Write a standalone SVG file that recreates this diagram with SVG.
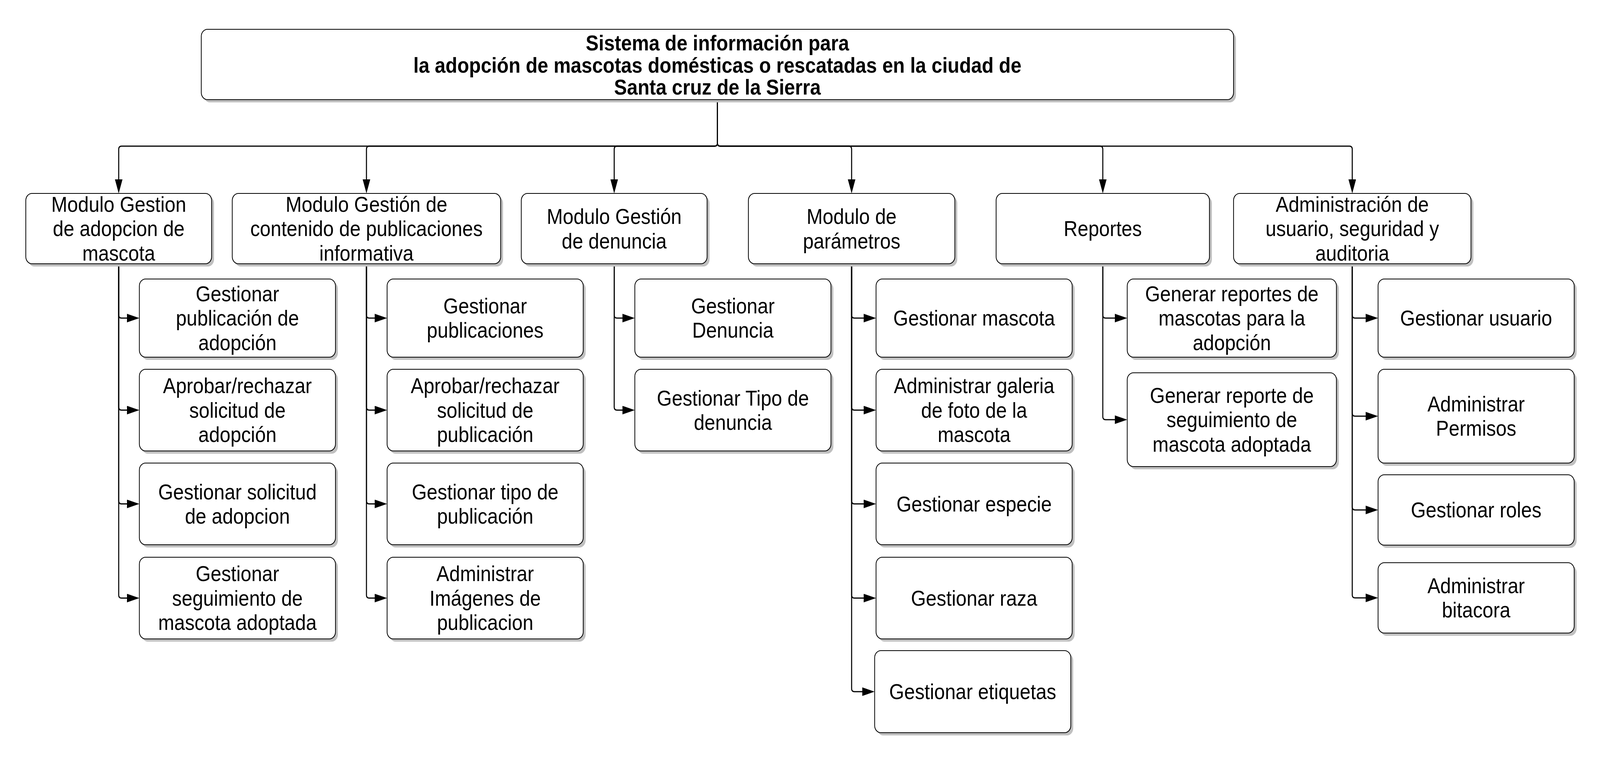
<svg xmlns="http://www.w3.org/2000/svg" width="4650" height="1950" viewBox="0 0 4650 1950" preserveAspectRatio="none">
<style>
svg{width:100vw;height:100vh}
.bg{fill:#ffffff}
.sh{fill:#c0c0c0}
.box{fill:#ffffff;stroke:#000000;stroke-width:2.2}
.t{font-family:"Liberation Sans",Arial,sans-serif;font-size:56px;fill:#000000;text-anchor:middle}
.tb{font-family:"Liberation Sans",Arial,sans-serif;font-size:56px;font-weight:bold;fill:#000000;text-anchor:middle}
.c{fill:none;stroke:#000000;stroke-width:3}
</style>
<defs>
<marker id="ah" markerUnits="userSpaceOnUse" viewBox="0 0 36 22" markerWidth="36" markerHeight="22" refX="16" refY="11" orient="auto">
<path d="M0,0 L36,11 L0,22 Z" fill="#000000"/>
</marker>
</defs>
<rect class="bg" x="0" y="0" width="4650" height="1950"/>

<g id="connectors">
<path class="c" marker-end="url(#ah)" d="M2085,256 V366 Q2085,374 2077,374 H353 Q345,374 345,382 V475"/>
<path class="c" marker-end="url(#ah)" d="M2085,256 V366 Q2085,374 2077,374 H1073 Q1065,374 1065,382 V475"/>
<path class="c" marker-end="url(#ah)" d="M2085,256 V366 Q2085,374 2077,374 H1793 Q1785,374 1785,382 V475"/>
<path class="c" marker-end="url(#ah)" d="M2085,256 V366 Q2085,374 2093,374 H2467 Q2475,374 2475,382 V475"/>
<path class="c" marker-end="url(#ah)" d="M2085,256 V366 Q2085,374 2093,374 H3197 Q3205,374 3205,382 V475"/>
<path class="c" marker-end="url(#ah)" d="M2085,256 V366 Q2085,374 2093,374 H3922 Q3930,374 3930,382 V475"/>

<path class="c" marker-end="url(#ah)" d="M345,676 V806 Q345,814 353,814 H385"/>
<path class="c" marker-end="url(#ah)" d="M345,676 V1041.5 Q345,1049.5 353,1049.5 H385"/>
<path class="c" marker-end="url(#ah)" d="M345,676 V1281.5 Q345,1289.5 353,1289.5 H385"/>
<path class="c" marker-end="url(#ah)" d="M345,676 V1522.5 Q345,1530.5 353,1530.5 H385"/>

<path class="c" marker-end="url(#ah)" d="M1065,676 V806 Q1065,814 1073,814 H1105"/>
<path class="c" marker-end="url(#ah)" d="M1065,676 V1041.5 Q1065,1049.5 1073,1049.5 H1105"/>
<path class="c" marker-end="url(#ah)" d="M1065,676 V1281.5 Q1065,1289.5 1073,1289.5 H1105"/>
<path class="c" marker-end="url(#ah)" d="M1065,676 V1522.5 Q1065,1530.5 1073,1530.5 H1105"/>

<path class="c" marker-end="url(#ah)" d="M1785,676 V806 Q1785,814 1793,814 H1825"/>
<path class="c" marker-end="url(#ah)" d="M1785,676 V1041.5 Q1785,1049.5 1793,1049.5 H1825"/>

<path class="c" marker-end="url(#ah)" d="M2475,676 V806 Q2475,814 2483,814 H2526"/>
<path class="c" marker-end="url(#ah)" d="M2475,676 V1041.5 Q2475,1049.5 2483,1049.5 H2526"/>
<path class="c" marker-end="url(#ah)" d="M2475,676 V1281.5 Q2475,1289.5 2483,1289.5 H2526"/>
<path class="c" marker-end="url(#ah)" d="M2475,676 V1522.5 Q2475,1530.5 2483,1530.5 H2526"/>
<path class="c" marker-end="url(#ah)" d="M2475,676 V1762 Q2475,1770 2483,1770 H2522"/>

<path class="c" marker-end="url(#ah)" d="M3205,676 V806 Q3205,814 3213,814 H3256"/>
<path class="c" marker-end="url(#ah)" d="M3205,676 V1066 Q3205,1074 3213,1074 H3256"/>

<path class="c" marker-end="url(#ah)" d="M3930,676 V806 Q3930,814 3938,814 H3985"/>
<path class="c" marker-end="url(#ah)" d="M3930,676 V1057 Q3930,1065 3938,1065 H3985"/>
<path class="c" marker-end="url(#ah)" d="M3930,676 V1297 Q3930,1305 3938,1305 H3985"/>
<path class="c" marker-end="url(#ah)" d="M3930,676 V1522 Q3930,1530 3938,1530 H3985"/>
</g>

<g id="root">
<rect class="sh" x="592" y="82" width="3000" height="180" rx="18"/>
<rect class="box" x="585" y="75" width="3000" height="180" rx="18"/>
<text class="tb"><tspan x="2085" y="129">Sistema de información para</tspan><tspan x="2085" y="186">la adopción de mascotas domésticas o rescatadas en la ciudad de</tspan><tspan x="2085" y="242">Santa cruz de la Sierra</tspan></text>
</g>

<g id="m1">
<rect class="sh" x="82" y="502" width="540" height="180" rx="18"/>
<rect class="box" x="75" y="495" width="540" height="180" rx="18"/>
<text class="t"><tspan x="345" y="542">Modulo Gestion</tspan><tspan x="345" y="604.5">de adopcion de</tspan><tspan x="345" y="667">mascota</tspan></text>
</g>
<g id="m2">
<rect class="sh" x="682" y="502" width="780" height="180" rx="18"/>
<rect class="box" x="675" y="495" width="780" height="180" rx="18"/>
<text class="t"><tspan x="1065" y="542">Modulo Gestión de</tspan><tspan x="1065" y="604.5">contenido de publicaciones</tspan><tspan x="1065" y="667">informativa</tspan></text>
</g>
<g id="m3">
<rect class="sh" x="1522" y="502" width="540" height="180" rx="18"/>
<rect class="box" x="1515" y="495" width="540" height="180" rx="18"/>
<text class="t"><tspan x="1785" y="573.5">Modulo Gestión</tspan><tspan x="1785" y="636">de denuncia</tspan></text>
</g>
<g id="m4">
<rect class="sh" x="2182" y="502" width="600" height="180" rx="18"/>
<rect class="box" x="2175" y="495" width="600" height="180" rx="18"/>
<text class="t"><tspan x="2475" y="573.5">Modulo de</tspan><tspan x="2475" y="636">parámetros</tspan></text>
</g>
<g id="m5">
<rect class="sh" x="2902" y="502" width="620" height="180" rx="18"/>
<rect class="box" x="2895" y="495" width="620" height="180" rx="18"/>
<text class="t"><tspan x="3205" y="604.5">Reportes</tspan></text>
</g>
<g id="m6">
<rect class="sh" x="3592" y="502" width="690" height="180" rx="18"/>
<rect class="box" x="3585" y="495" width="690" height="180" rx="18"/>
<text class="t"><tspan x="3930" y="542">Administración de</tspan><tspan x="3930" y="604.5">usuario, seguridad y</tspan><tspan x="3930" y="667">auditoria</tspan></text>
</g>

<g id="c1r1">
<rect class="sh" x="412" y="721" width="570" height="200" rx="18"/>
<rect class="box" x="405" y="714" width="570" height="200" rx="18"/>
<text class="t"><tspan x="690" y="771">Gestionar</tspan><tspan x="690" y="833.5">publicación de</tspan><tspan x="690" y="896">adopción</tspan></text>
</g>
<g id="c1r2">
<rect class="sh" x="412" y="952" width="570" height="209" rx="18"/>
<rect class="box" x="405" y="945" width="570" height="209" rx="18"/>
<text class="t"><tspan x="690" y="1006.5">Aprobar/rechazar</tspan><tspan x="690" y="1069">solicitud de</tspan><tspan x="690" y="1131.5">adopción</tspan></text>
</g>
<g id="c1r3">
<rect class="sh" x="412" y="1192" width="570" height="209" rx="18"/>
<rect class="box" x="405" y="1185" width="570" height="209" rx="18"/>
<text class="t"><tspan x="690" y="1278">Gestionar solicitud</tspan><tspan x="690" y="1340.5">de adopcion</tspan></text>
</g>
<g id="c1r4">
<rect class="sh" x="412" y="1433" width="570" height="209" rx="18"/>
<rect class="box" x="405" y="1426" width="570" height="209" rx="18"/>
<text class="t"><tspan x="690" y="1487.5">Gestionar</tspan><tspan x="690" y="1550">seguimiento de</tspan><tspan x="690" y="1612.5">mascota adoptada</tspan></text>
</g>

<g id="c2r1">
<rect class="sh" x="1132" y="721" width="570" height="200" rx="18"/>
<rect class="box" x="1125" y="714" width="570" height="200" rx="18"/>
<text class="t"><tspan x="1410" y="802">Gestionar</tspan><tspan x="1410" y="864.5">publicaciones</tspan></text>
</g>
<g id="c2r2">
<rect class="sh" x="1132" y="952" width="570" height="209" rx="18"/>
<rect class="box" x="1125" y="945" width="570" height="209" rx="18"/>
<text class="t"><tspan x="1410" y="1006.5">Aprobar/rechazar</tspan><tspan x="1410" y="1069">solicitud de</tspan><tspan x="1410" y="1131.5">publicación</tspan></text>
</g>
<g id="c2r3">
<rect class="sh" x="1132" y="1192" width="570" height="209" rx="18"/>
<rect class="box" x="1125" y="1185" width="570" height="209" rx="18"/>
<text class="t"><tspan x="1410" y="1278">Gestionar tipo de</tspan><tspan x="1410" y="1340.5">publicación</tspan></text>
</g>
<g id="c2r4">
<rect class="sh" x="1132" y="1433" width="570" height="209" rx="18"/>
<rect class="box" x="1125" y="1426" width="570" height="209" rx="18"/>
<text class="t"><tspan x="1410" y="1487.5">Administrar</tspan><tspan x="1410" y="1550">Imágenes de</tspan><tspan x="1410" y="1612.5">publicacion</tspan></text>
</g>

<g id="c3r1">
<rect class="sh" x="1852" y="721" width="570" height="200" rx="18"/>
<rect class="box" x="1845" y="714" width="570" height="200" rx="18"/>
<text class="t"><tspan x="2130" y="802">Gestionar</tspan><tspan x="2130" y="864.5">Denuncia</tspan></text>
</g>
<g id="c3r2">
<rect class="sh" x="1852" y="952" width="570" height="209" rx="18"/>
<rect class="box" x="1845" y="945" width="570" height="209" rx="18"/>
<text class="t"><tspan x="2130" y="1038">Gestionar Tipo de</tspan><tspan x="2130" y="1100.5">denuncia</tspan></text>
</g>

<g id="c4r1">
<rect class="sh" x="2553" y="721" width="570" height="200" rx="18"/>
<rect class="box" x="2546" y="714" width="570" height="200" rx="18"/>
<text class="t"><tspan x="2831" y="833.5">Gestionar mascota</tspan></text>
</g>
<g id="c4r2">
<rect class="sh" x="2553" y="952" width="570" height="209" rx="18"/>
<rect class="box" x="2546" y="945" width="570" height="209" rx="18"/>
<text class="t"><tspan x="2831" y="1006.5">Administrar galeria</tspan><tspan x="2831" y="1069">de foto de la</tspan><tspan x="2831" y="1131.5">mascota</tspan></text>
</g>
<g id="c4r3">
<rect class="sh" x="2553" y="1192" width="570" height="209" rx="18"/>
<rect class="box" x="2546" y="1185" width="570" height="209" rx="18"/>
<text class="t"><tspan x="2831" y="1309">Gestionar especie</tspan></text>
</g>
<g id="c4r4">
<rect class="sh" x="2553" y="1433" width="570" height="209" rx="18"/>
<rect class="box" x="2546" y="1426" width="570" height="209" rx="18"/>
<text class="t"><tspan x="2831" y="1550">Gestionar raza</tspan></text>
</g>
<g id="c4r5">
<rect class="sh" x="2549" y="1672" width="570" height="210" rx="18"/>
<rect class="box" x="2542" y="1665" width="570" height="210" rx="18"/>
<text class="t"><tspan x="2827" y="1789.5">Gestionar etiquetas</tspan></text>
</g>

<g id="c5r1">
<rect class="sh" x="3283" y="721" width="608" height="200" rx="18"/>
<rect class="box" x="3276" y="714" width="608" height="200" rx="18"/>
<text class="t"><tspan x="3580" y="771">Generar reportes de</tspan><tspan x="3580" y="833.5">mascotas para la</tspan><tspan x="3580" y="896">adopción</tspan></text>
</g>
<g id="c5r2">
<rect class="sh" x="3283" y="961" width="608" height="240" rx="18"/>
<rect class="box" x="3276" y="954" width="608" height="240" rx="18"/>
<text class="t"><tspan x="3580" y="1031">Generar reporte de</tspan><tspan x="3580" y="1093.5">seguimiento de</tspan><tspan x="3580" y="1156">mascota adoptada</tspan></text>
</g>

<g id="c6r1">
<rect class="sh" x="4012" y="721" width="570" height="200" rx="18"/>
<rect class="box" x="4005" y="714" width="570" height="200" rx="18"/>
<text class="t"><tspan x="4290" y="833.5">Gestionar usuario</tspan></text>
</g>
<g id="c6r2">
<rect class="sh" x="4012" y="952" width="570" height="240" rx="18"/>
<rect class="box" x="4005" y="945" width="570" height="240" rx="18"/>
<text class="t"><tspan x="4290" y="1053">Administrar</tspan><tspan x="4290" y="1115.5">Permisos</tspan></text>
</g>
<g id="c6r3">
<rect class="sh" x="4012" y="1222" width="570" height="180" rx="18"/>
<rect class="box" x="4005" y="1215" width="570" height="180" rx="18"/>
<text class="t"><tspan x="4290" y="1324.5">Gestionar roles</tspan></text>
</g>
<g id="c6r4">
<rect class="sh" x="4012" y="1447" width="570" height="180" rx="18"/>
<rect class="box" x="4005" y="1440" width="570" height="180" rx="18"/>
<text class="t"><tspan x="4290" y="1518">Administrar</tspan><tspan x="4290" y="1580.5">bitacora</tspan></text>
</g>
</svg>
